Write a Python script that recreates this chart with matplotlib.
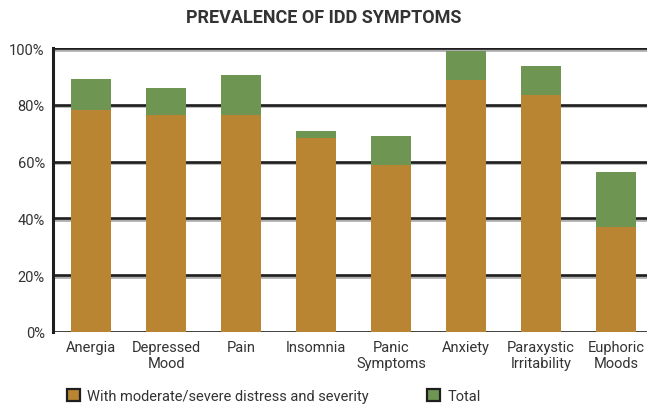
import matplotlib.pyplot as plt
import matplotlib.patheffects as pe
from matplotlib.patches import Patch
import matplotlib

matplotlib.rcParams['font.family'] = ['Roboto', 'DejaVu Sans']

symptoms = ['Anergia', 'Depressed\nMood', 'Pain', 'Insomnia', 'Panic\nSymptoms',
            'Anxiety', 'Paraxystic\nIrritability', 'Euphoric\nMoods']
total = [89.1, 85.9, 90.5, 70.8, 69.0, 98.9, 93.7, 56.3]
severe = [78.2, 76.4, 76.4, 68.3, 58.8, 88.7, 83.5, 37.0]
yticks = [0, 20, 40, 60, 80, 100]

orange = '#B98532'
green = '#6F9553'
txt = '#333333'

fig = plt.figure(figsize=(6.48, 4.10), dpi=100)
ax = fig.add_axes([0.082, 0.188, 0.916, 0.692])

x = range(len(symptoms))
ax.bar(x, total, width=0.533, color=green, zorder=3)
ax.bar(x, severe, width=0.533, color=orange, zorder=4)

ax.set_ylim(0, 100)
ax.set_xlim(-0.507, 7.41)
ax.set_yticks(yticks)
ax.set_yticklabels([f'{v}%' for v in yticks], fontsize=10.5, color=txt)
ax.set_xticks(list(x))
ax.set_xticklabels(symptoms, fontsize=10.5, color=txt, linespacing=1.2)
ax.tick_params(length=0, pad=6)

# gridlines: dark line with a light grey shadow under it
for v in yticks:
    ax.axhline(v, color='#1e1e1e', lw=1.9, zorder=2,
               path_effects=[pe.SimpleLineShadow(offset=(0, -1.0), shadow_color='#999999', alpha=0.8),
                             pe.Normal()])

for s in ['top', 'right', 'bottom']:
    ax.spines[s].set_visible(False)
ax.spines['left'].set_linewidth(2.2)
ax.spines['left'].set_color('#1e1e1e')
ax.spines['left'].set_zorder(5)

fig.suptitle('PREVALENCE OF IDD SYMPTOMS', x=0.5, y=0.977, fontsize=13,
             fontweight='bold', color=txt)

h1 = Patch(facecolor=orange, edgecolor='#1e1e1e', lw=1.6,
           label='With moderate/severe distress and severity')
h2 = Patch(facecolor=green, edgecolor='#1e1e1e', lw=1.6, label='Total')
leg_kw = dict(loc='center left', frameon=False, fontsize=10.5, handlelength=0.9,
              handleheight=0.9, handletextpad=0.5, labelcolor=txt, borderpad=0, borderaxespad=0)
fig.legend(handles=[h1], bbox_to_anchor=(67 / 648, 1 - 397 / 410), **leg_kw)
fig.legend(handles=[h2], bbox_to_anchor=(427 / 648, 1 - 397 / 410), **leg_kw)

plt.savefig('out.png', dpi=100)
